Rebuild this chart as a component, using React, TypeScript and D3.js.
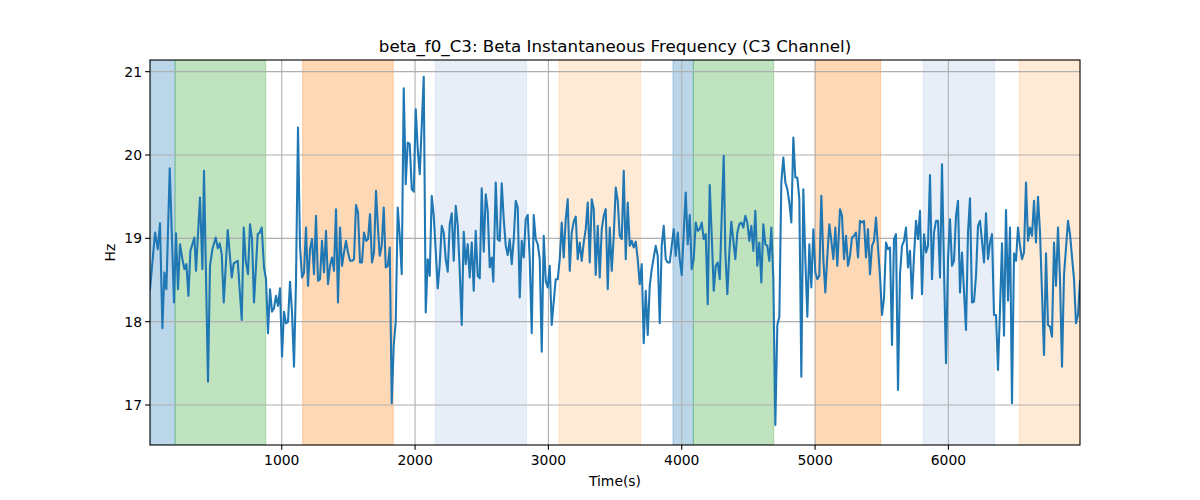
import React from "react";
import * as d3 from "d3";

const times: number[] = [
  12, 50, 70, 87, 105, 120, 135, 160, 192, 207, 222, 237, 255, 270, 285, 300, 315, 345, 357, 387,
  405, 417, 447, 462, 480, 505, 520, 535, 550, 565, 595, 625, 640, 670, 700, 715, 730, 747, 762, 777,
  792, 820, 835, 850, 867, 882, 897, 912, 927, 942, 957, 972, 987, 1002, 1017, 1032, 1047, 1062, 1077, 1092,
  1107, 1122, 1137, 1152, 1167, 1182, 1197, 1212, 1227, 1242, 1257, 1272, 1287, 1302, 1317, 1332, 1347, 1362, 1377, 1392,
  1407, 1422, 1437, 1452, 1467, 1482, 1497, 1512, 1527, 1542, 1557, 1572, 1587, 1602, 1617, 1632, 1647, 1662, 1677, 1692,
  1707, 1722, 1735, 1750, 1765, 1780, 1795, 1810, 1825, 1840, 1855, 1870, 1885, 1900, 1915, 1930, 1945, 1960, 1975, 1990,
  2005, 2020, 2035, 2050, 2065, 2080, 2095, 2110, 2125, 2140, 2155, 2170, 2185, 2200, 2215, 2230, 2245, 2260, 2275, 2290,
  2305, 2320, 2335, 2350, 2365, 2380, 2395, 2410, 2425, 2440, 2455, 2470, 2485, 2500, 2515, 2530, 2545, 2560, 2575, 2587,
  2605, 2620, 2635, 2650, 2665, 2680, 2695, 2710, 2725, 2740, 2755, 2770, 2785, 2800, 2815, 2830, 2845, 2860, 2875, 2890,
  2905, 2920, 2935, 2950, 2965, 2980, 2995, 3010, 3025, 3040, 3055, 3070, 3085, 3100, 3115, 3130, 3145, 3160, 3175, 3190,
  3205, 3220, 3235, 3250, 3265, 3280, 3295, 3310, 3325, 3340, 3355, 3370, 3385, 3400, 3415, 3430, 3445, 3460, 3475, 3490,
  3505, 3520, 3535, 3550, 3565, 3580, 3595, 3610, 3625, 3640, 3655, 3670, 3685, 3700, 3715, 3730, 3745, 3760, 3775, 3790,
  3805, 3820, 3835, 3850, 3865, 3880, 3895, 3910, 3925, 3940, 3955, 3970, 3985, 4000, 4015, 4030, 4045, 4060, 4075, 4090,
  4105, 4120, 4135, 4150, 4165, 4180, 4195, 4210, 4225, 4240, 4255, 4270, 4285, 4300, 4315, 4327, 4342, 4357, 4372, 4387,
  4402, 4417, 4432, 4447, 4462, 4477, 4492, 4507, 4522, 4537, 4552, 4567, 4582, 4597, 4612, 4627, 4642, 4657, 4672, 4687,
  4702, 4717, 4732, 4747, 4762, 4777, 4792, 4807, 4822, 4837, 4852, 4867, 4882, 4897, 4912, 4927, 4942, 4957, 4972, 4987,
  5002, 5017, 5032, 5047, 5062, 5077, 5092, 5107, 5122, 5137, 5152, 5167, 5187, 5202, 5217, 5232, 5247, 5262, 5277, 5292,
  5307, 5322, 5337, 5352, 5367, 5382, 5397, 5412, 5427, 5442, 5457, 5472, 5487, 5502, 5517, 5532, 5547, 5562, 5577, 5592,
  5607, 5622, 5637, 5652, 5667, 5682, 5697, 5712, 5727, 5742, 5757, 5772, 5787, 5802, 5817, 5832, 5847, 5862, 5877, 5892,
  5907, 5922, 5937, 5952, 5967, 5982, 5997, 6012, 6027, 6042, 6057, 6072, 6087, 6102, 6132, 6147, 6162, 6177, 6192, 6207,
  6222, 6237, 6252, 6267, 6282, 6297, 6312, 6327, 6342, 6357, 6372, 6387, 6402, 6417, 6432, 6447, 6462, 6477, 6492, 6507,
  6522, 6537, 6552, 6567, 6582, 6597, 6612, 6627, 6642, 6657, 6672, 6687, 6702, 6717, 6732, 6747, 6762, 6777, 6792, 6807,
  6822, 6837, 6852, 6867, 6897, 6912, 6942, 6957, 6972, 6987,
];

const values: number[] = [
  18.39, 19.07, 18.87, 19.18, 17.92, 18.59, 18.39, 19.84, 18.23, 19.06, 18.39, 18.93, 18.75, 18.63, 18.69, 18.31, 18.85, 19.01, 18.61, 19.49,
  18.63, 19.81, 17.28, 18.67, 18.87, 19.01, 18.88, 18.94, 18.81, 18.23, 19.10, 18.53, 18.70, 18.73, 18.02, 19.13, 18.73, 18.57, 19.17, 18.99,
  18.23, 19.05, 19.07, 19.13, 18.65, 18.51, 17.86, 18.39, 18.12, 18.16, 18.31, 18.19, 18.40, 17.58, 18.12, 17.98, 18.00, 18.48, 18.12, 17.46,
  18.49, 20.33, 18.91, 18.53, 18.59, 19.13, 18.43, 18.87, 18.99, 18.57, 19.27, 18.49, 18.51, 18.97, 18.59, 19.09, 18.45, 18.67, 18.77, 18.61,
  19.35, 18.23, 19.13, 18.67, 18.83, 18.97, 18.83, 18.73, 18.73, 18.75, 19.40, 19.31, 18.71, 18.71, 19.07, 18.97, 18.99, 19.29, 18.71, 18.83,
  19.57, 19.11, 18.79, 18.91, 19.37, 18.65, 18.67, 18.89, 17.02, 17.72, 18.00, 19.37, 19.03, 18.57, 20.80, 19.65, 20.15, 20.13, 19.59, 19.56,
  20.55, 20.07, 19.77, 20.35, 20.94, 18.11, 18.75, 18.55, 19.51, 19.27, 18.85, 18.40, 18.69, 19.15, 19.07, 18.75, 18.60, 19.17, 19.30, 18.73,
  19.39, 19.16, 18.61, 17.96, 19.08, 18.69, 18.93, 18.53, 18.95, 18.37, 19.09, 18.55, 18.52, 19.60, 18.84, 19.53, 19.33, 18.65, 18.77, 18.48,
  19.67, 18.99, 18.97, 19.66, 19.23, 18.91, 18.80, 18.99, 18.69, 18.99, 19.45, 19.37, 18.29, 18.97, 18.77, 19.23, 19.28, 18.75, 17.86, 19.28,
  18.99, 18.93, 18.75, 17.64, 19.03, 18.49, 18.41, 18.67, 17.96, 18.24, 18.51, 18.51, 18.75, 19.19, 18.77, 19.23, 19.47, 18.61, 19.07, 19.20,
  19.26, 18.75, 18.95, 18.73, 18.95, 19.11, 19.43, 18.71, 19.47, 19.35, 18.56, 19.15, 18.53, 19.11, 19.27, 19.35, 18.39, 19.13, 18.61, 19.03,
  19.61, 19.45, 19.03, 18.99, 19.81, 18.75, 19.43, 18.91, 18.97, 18.89, 18.96, 18.75, 18.45, 18.69, 17.74, 18.37, 17.84, 18.43, 18.63, 18.77,
  18.91, 18.79, 17.98, 18.91, 19.15, 18.75, 18.71, 18.71, 18.91, 19.11, 18.79, 19.07, 18.75, 18.56, 19.07, 19.55, 18.93, 19.28, 18.63, 18.75,
  19.19, 19.09, 19.11, 19.19, 18.99, 19.05, 18.21, 19.64, 19.03, 18.37, 18.67, 18.71, 18.51, 19.27, 19.99, 18.83, 18.33, 18.83, 19.20, 18.97,
  18.75, 19.07, 19.17, 19.19, 19.13, 19.27, 19.19, 18.97, 19.15, 18.85, 19.33, 18.67, 18.95, 18.47, 19.17, 18.93, 18.91, 18.73, 19.13, 18.51,
  16.76, 17.96, 18.06, 19.67, 19.97, 19.67, 19.59, 19.43, 19.19, 20.21, 19.73, 19.73, 19.47, 17.34, 19.59, 18.75, 18.06, 18.93, 18.41, 19.11,
  18.59, 18.51, 18.55, 19.51, 18.75, 18.35, 18.79, 19.17, 18.97, 18.75, 19.13, 18.67, 19.35, 19.27, 18.75, 19.03, 18.67, 18.79, 19.01, 19.03,
  19.07, 18.77, 19.21, 19.19, 19.21, 18.77, 19.11, 18.57, 18.91, 18.97, 19.25, 18.89, 18.55, 18.08, 18.28, 18.95, 18.87, 18.89, 17.72, 18.99,
  19.05, 17.18, 18.57, 18.91, 18.97, 19.13, 18.65, 18.85, 18.28, 18.79, 19.21, 18.99, 19.33, 18.33, 19.05, 18.83, 18.91, 19.76, 18.51, 19.07,
  19.21, 19.21, 18.53, 19.89, 18.63, 17.50, 18.75, 19.23, 18.67, 18.73, 19.27, 19.45, 18.35, 18.83, 17.90, 19.07, 19.48, 18.23, 18.24, 18.55,
  19.15, 19.21, 18.97, 18.71, 19.30, 18.75, 18.95, 19.05, 18.08, 18.08, 17.42, 18.15, 18.94, 17.83, 19.34, 18.25, 19.13, 17.02, 18.82, 18.73,
  19.13, 18.91, 18.75, 18.83, 19.67, 18.97, 19.13, 19.03, 19.45, 18.95, 19.50, 19.07, 18.35, 17.60, 18.82, 17.96, 17.94, 17.82, 18.95, 18.43,
  19.13, 18.51, 17.46, 18.56, 19.21, 19.05, 18.51, 17.98, 18.08, 18.49,
];

const spanStarts: number[] = [12, 200, 1157, 2150, 3080, 3934, 4087, 5002, 5810, 6530];
const spanEnds: number[] = [200, 880, 1836, 2837, 3692, 4087, 4690, 5492, 6347, 6987];
const spanColors: string[] = [
  "#1f77b4", "#2ca02c", "#ff7f0e", "#aec7e8", "#ffbb78",
  "#1f77b4", "#2ca02c", "#ff7f0e", "#aec7e8", "#ffbb78",
];

const xTicks: number[] = [1000, 2000, 3000, 4000, 5000, 6000];
const yTicks: number[] = [17, 18, 19, 20, 21];

const titleText = "beta_f0_C3: Beta Instantaneous Frequency (C3 Channel)";
const xLabel = "Time(s)";
const yLabel = "Hz";

export default function App() {
  const W = 1200, H = 500;
  const left = 150, right = 1080, top = 60, bottom = 445;
  const x = d3.scaleLinear().domain([12, 6987]).range([left, right]);
  const y = d3.scaleLinear().domain([16.52, 21.14]).range([bottom, top]);
  const pts: [number, number][] = times.map((t, i) => [t, values[i]]);
  const line = d3.line<[number, number]>().x((d) => x(d[0])).y((d) => y(d[1]));
  const font = "DejaVu Sans, sans-serif";
  const tickLen = 4.86;
  return (
    <svg width={W} height={H} style={{ position: "absolute", left: 0, top: 0, background: "#fff" }} fontFamily={font}>
      <defs>
        <clipPath id="plotclip">
          <rect x={left} y={top} width={right - left} height={bottom - top} />
        </clipPath>
      </defs>
      <rect x={0} y={0} width={W} height={H} fill="#fff" />
      <g clipPath="url(#plotclip)">
        {spanStarts.map((s, i) => (
          <rect
            key={"s" + i}
            x={x(s)}
            y={top}
            width={x(spanEnds[i]) - x(s)}
            height={bottom - top}
            fill={spanColors[i]}
            fillOpacity={0.3}
            stroke={spanColors[i]}
            strokeOpacity={0.3}
            strokeWidth={1}
          />
        ))}
        {xTicks.map((t) => (
          <line key={"gx" + t} x1={x(t)} x2={x(t)} y1={top} y2={bottom} stroke="#b0b0b0" strokeWidth={1.1} />
        ))}
        {yTicks.map((t) => (
          <line key={"gy" + t} x1={left} x2={right} y1={y(t)} y2={y(t)} stroke="#b0b0b0" strokeWidth={1.1} />
        ))}
        <path d={line(pts) || ""} fill="none" stroke="#1f77b4" strokeWidth={2.08} strokeLinejoin="round" strokeLinecap="square" />
      </g>
      <rect x={left} y={top} width={right - left} height={bottom - top} fill="none" stroke="#000" strokeWidth={1.1} />
      {xTicks.map((t) => (
        <g key={"xt" + t}>
          <line x1={x(t)} x2={x(t)} y1={bottom} y2={bottom + tickLen} stroke="#000" strokeWidth={1.1} />
          <text x={x(t)} y={bottom + 20} textAnchor="middle" fontSize={13.9} fill="#000">{t}</text>
        </g>
      ))}
      {yTicks.map((t) => (
        <g key={"yt" + t}>
          <line x1={left - tickLen} x2={left} y1={y(t)} y2={y(t)} stroke="#000" strokeWidth={1.1} />
          <text x={left - 8} y={y(t)} dy="0.35em" textAnchor="end" fontSize={13.9} fill="#000">{t}</text>
        </g>
      ))}
      <text x={(left + right) / 2} y={52} textAnchor="middle" fontSize={16.7} fill="#000">{titleText}</text>
      <text x={(left + right) / 2} y={486} textAnchor="middle" fontSize={13.9} fill="#000">{xLabel}</text>
      <text transform={`translate(115,${(top + bottom) / 2}) rotate(-90)`} textAnchor="middle" fontSize={13.9} fill="#000">{yLabel}</text>
    </svg>
  );
}
